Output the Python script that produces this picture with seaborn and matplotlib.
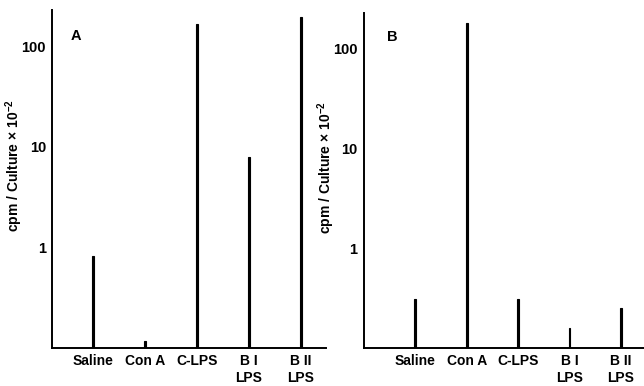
import pandas as pd
import matplotlib.pyplot as plt
import seaborn as sns
from matplotlib.ticker import FixedLocator, FixedFormatter, NullLocator

sns.set_theme(style="white")
plt.rcParams['font.family'] = ['Liberation Sans', 'DejaVu Sans']
plt.rcParams['font.weight'] = 'bold'
plt.rcParams['mathtext.fontset'] = 'custom'
plt.rcParams['mathtext.rm'] = 'Liberation Sans:bold'
plt.rcParams['mathtext.bf'] = 'Liberation Sans:bold'
plt.rcParams['mathtext.default'] = 'bf'

# values (cpm/culture x 10^-2)
groups = ["Saline", "Con A", "C-LPS", "B I\nLPS", "B II\nLPS"]
panel_a = [0.83, 0.117, 166, 7.9, 195]
panel_b = [0.31, 178, 0.31, 0.16, 0.25]
y_ticks = [1, 10, 100]
y_tick_labels = ["1", "10", "100"]

fig = plt.figure(figsize=(6.44, 3.86), dpi=100)
fig.patch.set_facecolor('white')

ax_a = fig.add_axes([0.081, 0.098, 0.425, 0.876])
ax_b = fig.add_axes([0.565, 0.098, 0.435, 0.868])


def draw_panel(ax, values, letter, xlim, ylim, letter_xy, label_x):
    df = pd.DataFrame({'group': groups, 'value': values})
    sns.barplot(data=df, x='group', y='value', color='black', width=0.035,
                saturation=1, edgecolor='black', linewidth=0.8, ax=ax)
    ax.set_yscale('log')
    ax.set_ylim(*ylim)
    ax.set_xlim(*xlim)
    ax.yaxis.set_major_locator(FixedLocator(y_ticks))
    ax.yaxis.set_major_formatter(FixedFormatter(y_tick_labels))
    ax.yaxis.set_minor_locator(NullLocator())
    ax.tick_params(axis='y', which='major', direction='inout', length=8, width=1.2,
                   color='black', pad=0.5, labelsize=10.5, labelcolor='black')
    ax.tick_params(axis='x', length=0, pad=4, labelsize=10, labelcolor='black')
    for lab in ax.get_xticklabels() + ax.get_yticklabels():
        lab.set_fontweight('bold')
    for lab in ax.get_xticklabels():
        lab.set_linespacing(1.3)
    ax.set_xlabel('')
    ax.set_ylabel('cpm / Culture × 10$^{-2}$', fontsize=10,
                  fontweight='bold', color='black')
    ax.yaxis.set_label_coords(label_x, 0.54)
    for side in ['top', 'right']:
        ax.spines[side].set_visible(False)
    for side in ['left', 'bottom']:
        ax.spines[side].set_color('black')
        ax.spines[side].set_linewidth(1.4)
    ax.text(letter_xy[0], letter_xy[1], letter, transform=ax.transAxes, fontsize=10.5,
            fontweight='bold', color='black', va='center')


draw_panel(ax_a, panel_a, 'A', (-0.79, 4.48), (0.1, 229), (0.066, 0.923), -0.099)
draw_panel(ax_b, panel_b, 'B', (-1.0, 4.45), (0.1, 224), (0.082, 0.928), -0.096)

plt.savefig('out.png', dpi=100, facecolor='white')
